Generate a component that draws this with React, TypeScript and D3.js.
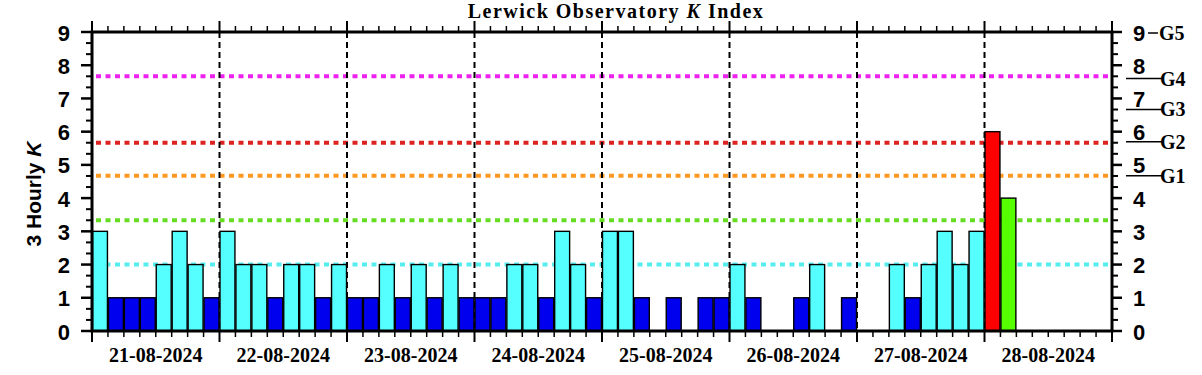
import React from 'react';
import * as d3 from 'd3';

const dayLabels = ["21-08-2024", "22-08-2024", "23-08-2024", "24-08-2024", "25-08-2024", "26-08-2024", "27-08-2024", "28-08-2024"];
const k21 = [3, 1, 1, 1, 2, 3, 2, 1];
const k22 = [3, 2, 2, 1, 2, 2, 1, 2];
const k23 = [1, 1, 2, 1, 2, 1, 2, 1];
const k24 = [1, 1, 2, 2, 1, 3, 2, 1];
const k25 = [3, 3, 1, 0, 1, 0, 1, 1];
const k26 = [2, 1, 0, 0, 1, 2, 0, 1];
const k27 = [0, 0, 2, 1, 2, 3, 2, 3];
const k28 = [6, 4];
const yTickValues = [0, 1, 2, 3, 4, 5, 6, 7, 8, 9];
const refLevels = [2, 3.33, 4.67, 5.67, 7.67];
const refColors = ["#55eeee", "#66dd22", "#ff9922", "#dd2222", "#ee22ee"];
const gNames = ["G1", "G2", "G3", "G4"];
const gLevels = [4.67, 5.7, 6.67, 7.6];

const dailyK = [k21, k22, k23, k24, k25, k26, k27, k28];

function barColor(k: number) {
  if (k <= 1) return "#0000ee";
  if (k <= 3) return "#55ffff";
  if (k === 4) return "#55ff00";
  if (k === 5) return "#ff9900";
  return "#ff0000";
}

const SANS = "'Liberation Sans', Arial, sans-serif";
const SERIF = "'Liberation Serif', 'Times New Roman', serif";

export default function App() {
  const left = 92, right = 1112, top = 32, bottom = 331;
  const x = d3.scaleLinear().domain([0, 192]).range([left, right]);
  const y = d3.scaleLinear().domain([0, 9]).range([bottom, top]);

  const bars = dailyK.flatMap((vals, d) => vals.map((k, i) => ({ start: d * 24 + i * 3, k })));
  const minorX = d3.range(0, 193, 3).filter(h => h % 24 !== 0);
  const majorX = d3.range(0, 193, 24);
  const minorY = d3.range(0, 28).map(i => i / 3).filter((v, i) => i % 3 !== 0);
  const dayBounds = d3.range(24, 192, 24);

  return (
    <svg width={1202} height={375} style={{ position: 'absolute', left: 0, top: 0, background: '#fff' }}>
      {/* title */}
      <text x={616} y={18} textAnchor="middle" fontFamily={SERIF} fontWeight="bold" fontSize={20} letterSpacing={1.5}>
        Lerwick Observatory <tspan fontStyle="italic">K</tspan> Index
      </text>
      {/* y title */}
      <text transform="translate(33,194) rotate(-90)" textAnchor="middle" dominantBaseline="central" fontFamily={SANS} fontWeight="bold" fontSize={21}>
        3 Hourly <tspan fontStyle="italic">K</tspan>
      </text>

      {/* reference dotted lines */}
      {refLevels.map((lv, i) => (
        <line key={'r' + i} x1={left + 4} x2={right - 2} y1={y(lv)} y2={y(lv)} stroke={refColors[i]} strokeWidth={4} strokeDasharray="5,4.5" />
      ))}
      {/* day dashed lines */}
      {dayBounds.map(h => (
        <line key={'d' + h} x1={x(h)} x2={x(h)} y1={top} y2={bottom} stroke="#000" strokeWidth={2} strokeDasharray="6,4" />
      ))}

      {/* bars */}
      {bars.filter(b => b.k > 0).map((b, i) => (
        <rect key={'b' + i} x={x(b.start) + 0.5} width={x(b.start + 3) - x(b.start) - 1} y={y(b.k)} height={bottom - y(b.k)} fill={barColor(b.k)} stroke="#000" strokeWidth={1.4} />
      ))}

      {/* frame */}
      <rect x={left} y={top} width={right - left} height={bottom - top} fill="none" stroke="#000" strokeWidth={3} />

      {/* x ticks */}
      {minorX.map(h => (
        <g key={'mx' + h}>
          <line x1={x(h)} x2={x(h)} y1={top} y2={top - 6} stroke="#000" strokeWidth={1.5} />
          <line x1={x(h)} x2={x(h)} y1={bottom} y2={bottom + 6} stroke="#000" strokeWidth={1.5} />
        </g>
      ))}
      {majorX.map(h => (
        <g key={'Mx' + h}>
          <line x1={x(h)} x2={x(h)} y1={top} y2={top - 11} stroke="#000" strokeWidth={2} />
          <line x1={x(h)} x2={x(h)} y1={bottom} y2={bottom + 11} stroke="#000" strokeWidth={2} />
        </g>
      ))}
      {dayLabels.map((lab, i) => (
        <text key={'xl' + i} x={x(i * 24 + 12)} y={362} textAnchor="middle" fontFamily={SERIF} fontWeight="bold" fontSize={20}>{lab}</text>
      ))}

      {/* y ticks */}
      {minorY.map((v, i) => (
        <g key={'my' + i}>
          <line x1={left} x2={left - 6} y1={y(v)} y2={y(v)} stroke="#000" strokeWidth={2} />
          <line x1={right} x2={right + 6} y1={y(v)} y2={y(v)} stroke="#000" strokeWidth={2} />
        </g>
      ))}
      {yTickValues.map(v => (
        <g key={'My' + v}>
          <line x1={left} x2={left - 11} y1={y(v)} y2={y(v)} stroke="#000" strokeWidth={2.5} />
          <line x1={right} x2={right + 10} y1={y(v)} y2={y(v)} stroke="#000" strokeWidth={2.5} />
          <text x={70} y={y(v) + 1} textAnchor="end" dominantBaseline="central" fontFamily={SANS} fontWeight="bold" fontSize={22}>{v}</text>
          <text x={1133} y={y(v) + 1} textAnchor="start" dominantBaseline="central" fontFamily={SANS} fontWeight="bold" fontSize={22}>{v}</text>
        </g>
      ))}

      {/* G scale */}
      <line x1={1148} x2={1158} y1={y(9) + 1} y2={y(9) + 1} stroke="#000" strokeWidth={1.5} />
      <text x={1159} y={y(9) + 8} fontFamily={SERIF} fontWeight="bold" fontSize={20}>G5</text>
      {gLevels.map((lv, i) => (
        <g key={'g' + i}>
          <line x1={1126} x2={1162} y1={y(lv)} y2={y(lv)} stroke="#000" strokeWidth={1.5} />
          <text x={1160} y={y(lv) + 7} fontFamily={SERIF} fontWeight="bold" fontSize={20}>{gNames[i]}</text>
        </g>
      ))}
    </svg>
  );
}
